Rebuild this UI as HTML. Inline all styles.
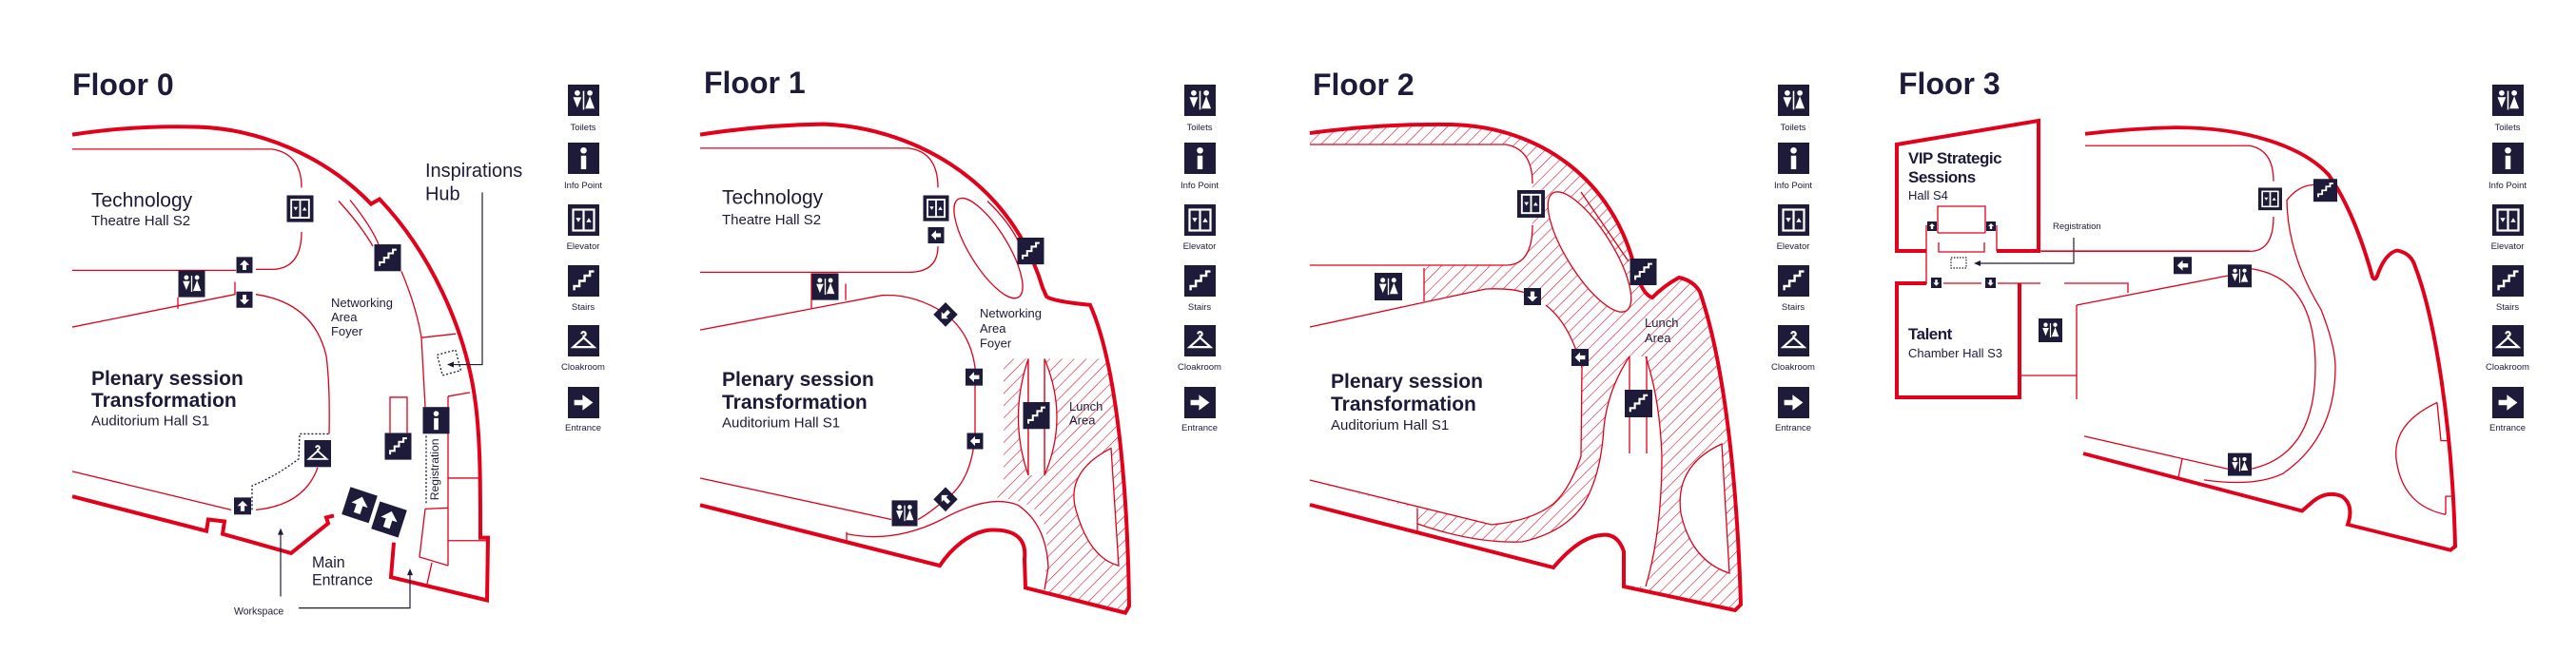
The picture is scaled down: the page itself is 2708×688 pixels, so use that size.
<!DOCTYPE html>
<html><head><meta charset="utf-8"><style>
html,body{margin:0;padding:0;background:#fff}
svg{display:block}
text{font-family:"Liberation Sans",sans-serif;fill:#1e1b3a}
</style></head><body>
<svg width="2708" height="688" viewBox="0 0 2708 688" xmlns="http://www.w3.org/2000/svg">
<defs>
<symbol id="toilet" viewBox="0 0 30 30"><rect width="30" height="30" fill="#1e1b3a"/><g fill="#fff"><circle cx="9" cy="8" r="2.6"/><path d="M5 12h8l-4 10z"/><rect x="14.3" y="6" width="1.4" height="18"/><circle cx="21" cy="8" r="2.6"/><path d="M21 11l-4.5 12h9z"/></g></symbol>
<symbol id="info" viewBox="0 0 30 30"><rect width="30" height="30" fill="#1e1b3a"/><g fill="#fff"><circle cx="15" cy="7.5" r="3"/><rect x="12.5" y="12.5" width="5" height="13"/></g></symbol>
<symbol id="elev" viewBox="0 0 30 30"><rect width="30" height="30" fill="#1e1b3a"/><rect x="5" y="5" width="20" height="20" fill="none" stroke="#fff" stroke-width="2"/><line x1="15" y1="5" x2="15" y2="25" stroke="#fff" stroke-width="2"/><path d="M7.5 13h5l-2.5 4z M17.5 17h5l-2.5-4z" fill="#fff"/></symbol>
<symbol id="stairs" viewBox="0 0 30 30"><rect width="30" height="30" fill="#1e1b3a"/><polyline points="6,24 6,20 11,20 11,15 16,15 16,10 21,10 21,6 25,6" fill="none" stroke="#fff" stroke-width="2.2"/></symbol>
<symbol id="cloak" viewBox="0 0 30 30"><rect width="30" height="30" fill="#1e1b3a"/><path d="M13 8.5a2 2 0 1 1 2 2v1.5L5 21h20L15 12" fill="none" stroke="#fff" stroke-width="2"/></symbol>
<symbol id="entr" viewBox="0 0 30 30"><rect width="30" height="30" fill="#1e1b3a"/><path d="M6 12.5h8v-5l10 7.5-10 7.5v-5h-8z" fill="#fff"/></symbol>
<symbol id="up" viewBox="0 0 30 30"><rect width="30" height="30" fill="#1e1b3a"/><path d="M15 6l9 9h-5.5v9h-7v-9h-5.5z" fill="#fff"/></symbol>
<symbol id="down" viewBox="0 0 30 30"><rect width="30" height="30" fill="#1e1b3a"/><path d="M15 24l9-9h-5.5v-9h-7v9h-5.5z" fill="#fff"/></symbol>
<symbol id="left" viewBox="0 0 30 30"><rect width="30" height="30" fill="#1e1b3a"/><path d="M6 15l9-9v5.5h9v7h-9v5.5z" fill="#fff"/></symbol>
<pattern id="h" width="9" height="9" patternUnits="userSpaceOnUse" patternTransform="rotate(45)"><line x1="0" y1="0" x2="0" y2="9" stroke="#e2001a" stroke-width="1.1"/></pattern>
<g id="legend">
<use href="#toilet" x="-16" y="89" width="33" height="33"/>
<use href="#info" x="-16" y="150" width="33" height="33"/>
<use href="#elev" x="-16" y="215" width="33" height="33"/>
<use href="#stairs" x="-16" y="279" width="33" height="33"/>
<use href="#cloak" x="-16" y="342" width="33" height="33"/>
<use href="#entr" x="-16" y="407" width="33" height="33"/>
<g font-size="9.5" text-anchor="middle" style="font-family:'Liberation Sans',sans-serif" fill="#1e1b3a">
<text x="0" y="137">Toilets</text><text x="0" y="198">Info Point</text><text x="0" y="262">Elevator</text><text x="0" y="326">Stairs</text><text x="0" y="389">Cloakroom</text><text x="0" y="453">Entrance</text></g>
</g>
</defs>

<use href="#legend" x="613" y="0"/>
<use href="#legend" x="1261" y="0"/>
<use href="#legend" x="1885" y="0"/>
<use href="#legend" x="2636" y="0"/>

<!-- FLOOR 0 and FLOOR 1 -->
<g transform="scale(1,1.012)">
<text x="76" y="99" font-size="32" font-weight="bold">Floor 0</text>
<g fill="none" stroke="#e2001a">
<path stroke-width="4" d="M76,140 Q140,130 208,132 C270,134 340,160 390,212 L399,207 C450,260 490,340 500,420 C505,460 505,500 505,559 L513,559 L512,624 L411,600 L414,564"/>
<path stroke-width="4" d="M76,516 L217,552 L219,540 L236,542 L234,555 L306,575 L345,544 L343,538 L351,536"/>
<g stroke-width="1.3">
<path d="M76,155 L286,155 Q317,160 317,195"/>
<path d="M317,241 Q317,278 288,280 L269,280"/>
<path d="M76,281 L248,281"/>
<path d="M76,340 L247,306 L247,293"/>
<path d="M187,309 L187,321"/>
<path d="M269,306 Q330,315 343,370 Q347,400 346,451"/>
<path d="M334,486 Q320,525 269,530"/>
<path d="M76,490 L243,530"/>
<path d="M356,209 Q380,235 392,256"/>
<path d="M368,208 Q390,235 398,254"/>
<path d="M422,282 Q438,320 443,351 L447,423"/>
<path d="M443,351 L479,347"/>
<path d="M471,412 L494,408"/>
<path d="M471,412 L471,588"/>
<path d="M471,497 L503,497"/>
<path d="M471,562 L512,562"/>
<path d="M447,529 L471,528 M447,529 L441,579 L471,588 M454,585 L449,607"/>
<path d="M410,450 L410,413 L428,413 L428,450"/>
</g>
<path stroke="#1e1b3a" stroke-width="1.3" stroke-dasharray="2,2" d="M265,530 L265,505 Q290,495 314,477 L315,451 L346,451"/>
<path stroke="#1e1b3a" stroke-width="1.3" stroke-dasharray="2,2" d="M448,453 L448,525"/>
<rect x="462" y="366" width="20" height="22" stroke="#1e1b3a" stroke-width="1.3" stroke-dasharray="2,2" transform="rotate(-15 472 377)"/>
</g>
<g fill="none" stroke="#1e1b3a" stroke-width="1.2">
<path d="M507,200 L507,379 L474,379"/>
<path d="M295,620 L295,552"/>
<path d="M314,632 L431,632 L431,594"/>
</g>
<path d="M470,379 l7,-3 v6z M295,549 l-3,7 h6z M431,591 l-3,7 h6z" fill="#1e1b3a"/>
<use href="#elev" x="301" y="203" width="29" height="28"/>
<use href="#up" x="248" y="267" width="18" height="17"/>
<use href="#toilet" x="187" y="281" width="29" height="28"/>
<use href="#down" x="248" y="303" width="18" height="17"/>
<use href="#cloak" x="320" y="457" width="28" height="29"/>
<use href="#up" x="246" y="517" width="18" height="18"/>
<use href="#stairs" x="393" y="254" width="29" height="28"/>
<use href="#stairs" x="404" y="450" width="29" height="28"/>
<use href="#info" x="444" y="423" width="29" height="28"/>
<g transform="translate(378,525) rotate(18)"><use href="#up" x="-15" y="-15" width="30" height="30"/></g>
<g transform="translate(409,540) rotate(18)"><use href="#up" x="-15" y="-15" width="30" height="30"/></g>
<text x="96" y="215" font-size="21">Technology</text>
<text x="96" y="234" font-size="15">Theatre Hall S2</text>
<text x="96" y="400" font-size="21" font-weight="bold">Plenary session</text>
<text x="96" y="423" font-size="21" font-weight="bold">Transformation</text>
<text x="96" y="442" font-size="15">Auditorium Hall S1</text>
<text x="348" y="319" font-size="13">Networking</text>
<text x="348" y="334" font-size="13">Area</text>
<text x="348" y="349" font-size="13">Foyer</text>
<text x="447" y="184" font-size="20">Inspirations</text>
<text x="447" y="208" font-size="20">Hub</text>
<text x="328" y="590" font-size="16">Main</text>
<text x="328" y="608" font-size="16">Entrance</text>
<text x="246" y="639" font-size="10.5">Workspace</text>
<text x="461" y="488" font-size="12" text-anchor="middle" transform="rotate(-90 461 488)">Registration</text>

<!-- FLOOR 1 -->
<text x="740" y="97" font-size="32" font-weight="bold">Floor 1</text>
<clipPath id="c1"><path d="M736,140 Q800,130 866,129 C950,132 1060,180 1096,299 L1100,308 Q1105,313 1146,317 C1170,370 1185,480 1187,630 L1183,637 L1078,611 L1077,581 C1080,555 1060,550 1040,551 C1020,553 1000,570 988,588 L736,525Z"/></clipPath>
<path clip-path="url(#c1)" fill="url(#h)" d="M1055,373 L1200,373 L1200,650 L1098,614 L1101,564 Q1100,540 1085,527 Q1060,515 1040,518 L1055,505 Z"/>
<g fill="#fff" stroke="#e2001a" stroke-width="1.3">
<path d="M1081,373 Q1060,434 1081,494 Z" stroke="none"/>
<path d="M1081,373 Q1060,434 1081,494" fill="none"/>
<line x1="1081" y1="373" x2="1081" y2="494"/>
<path d="M1098,373 Q1124,434 1098,494 Z"/>
<path d="M1168,466 Q1120,490 1131,530 Q1145,580 1176,588 Z"/>
</g>
<rect x="1081" y="373" width="17" height="121" fill="#fff"/>
<line x1="1081" y1="373" x2="1081" y2="494" stroke="#e2001a" stroke-width="1.3"/>
<line x1="1098" y1="373" x2="1098" y2="494" stroke="#e2001a" stroke-width="1.3"/>
<g fill="none" stroke="#e2001a">
<path stroke-width="4" d="M736,140 Q800,130 866,129 C950,132 1060,180 1096,299 L1100,308 Q1105,313 1146,317 C1170,370 1185,480 1187,630 L1183,637 L1078,611 L1077,581 C1080,555 1060,550 1040,551 C1020,553 1000,570 988,588 L736,525"/>
<g stroke-width="1.3">
<path d="M736,154 L955,154 Q986,158 986,195"/>
<path d="M986,256 Q986,283 955,283 L736,283"/>
<path d="M853,284 L853,321 M889,295 L889,312"/>
<path d="M736,343 L927,307 Q960,305 992,325 Q1020,345 1025,382 L1025,450 Q1022,500 994,519 Q975,535 965,540"/>
<path d="M736,497 L937,540"/>
<path d="M890,553 L890,562 M890,555 Q940,565 990,540 Q1040,513 1070,525 Q1100,545 1102,590 L1098,613"/>
<path d="M1038,209 Q1060,230 1070,250"/>
<ellipse cx="1039" cy="258" rx="20" ry="60" transform="rotate(-32 1039 258)" fill="#fff"/>
</g></g>
<use href="#elev" x="970" y="203" width="28" height="27"/>
<use href="#left" x="975" y="236" width="18" height="17"/>
<use href="#toilet" x="853" y="284" width="29" height="28"/>
<use href="#left" x="1015" y="383" width="18" height="18"/>
<use href="#left" x="1016" y="450" width="18" height="17"/>
<use href="#toilet" x="937" y="520" width="28" height="27"/>
<use href="#stairs" x="1069" y="247" width="29" height="28"/>
<use href="#stairs" x="1075" y="418" width="29" height="28"/>
<g transform="translate(994,327) rotate(45)"><rect x="-9" y="-9" width="18" height="18" fill="#1e1b3a"/></g>
<g transform="translate(994,327) rotate(-135)"><path d="M0,-6 l5,5 h-3 v6 h-4 v-6 h-3z" fill="#fff"/></g>
<g transform="translate(994,519) rotate(45)"><rect x="-9" y="-9" width="18" height="18" fill="#1e1b3a"/></g>
<g transform="translate(994,519) rotate(-45)"><path d="M0,-6 l5,5 h-3 v6 h-4 v-6 h-3z" fill="#fff"/></g>
<text x="759" y="212" font-size="21">Technology</text>
<text x="759" y="233" font-size="15">Theatre Hall S2</text>
<text x="759" y="401" font-size="21" font-weight="bold">Plenary session</text>
<text x="759" y="425" font-size="21" font-weight="bold">Transformation</text>
<text x="759" y="444" font-size="15">Auditorium Hall S1</text>
<text x="1030" y="330" font-size="13">Networking</text>
<text x="1030" y="346" font-size="13">Area</text>
<text x="1030" y="361" font-size="13">Foyer</text>
<text x="1124" y="427" font-size="13">Lunch</text>
<text x="1124" y="441" font-size="13">Area</text>
<text x="1380" y="99" font-size="32" font-weight="bold">Floor 2</text>
</g>

<!-- FLOOR 2 -->
<path fill="url(#h)" d="M1377,140 Q1450,130 1525,131 C1620,133 1695,190 1718,280 Q1726,310 1737,313 Q1750,300 1765,292 Q1780,295 1787,307 C1812,380 1826,500 1830,636 L1824,642 L1707,617 L1707,580 Q1700,560 1683,563 Q1660,565 1633,597 L1377,531Z"/>
<g fill="#fff" stroke="none">
<path d="M1370,152 L1583,152 Q1611,157 1611,193 L1611,237 Q1611,279 1583,279 L1370,279 Z"/>
<path d="M1370,279 L1497,279 L1497,317 L1370,344 Z"/>
<path d="M1370,505 L1490,535 L1490,560 L1370,531 Z"/>
<path d="M1370,344 L1562,304 Q1590,303 1603,308 L1625,321 Q1650,340 1663,387 L1662,480 Q1650,515 1633,530 Q1610,548 1568,552 L1370,505 Z"/>
<path d="M1490,551 Q1550,572 1600,570 Q1645,560 1665,530 Q1683,500 1686,450 Q1690,410 1713,375 L1730,375 Q1745,420 1747,480 Q1747,560 1730,617 L1707,617 L1707,580 Q1700,560 1683,563 Q1660,565 1633,597 L1490,560 Z"/>
</g>
<g fill="none" stroke="#e2001a">
<path stroke-width="4" d="M1377,140 Q1450,130 1525,131 C1620,133 1695,190 1718,280 Q1726,310 1737,313 Q1750,300 1765,292 Q1780,295 1787,307 C1812,380 1826,500 1830,636 L1824,642 L1707,617 L1707,580 Q1700,560 1683,563 Q1660,565 1633,597 L1377,531"/>
<g stroke-width="1.3">
<path d="M1377,152 L1583,152 Q1611,157 1611,193"/>
<path d="M1611,237 Q1611,279 1583,279 L1377,279"/>
<path d="M1497,282 L1497,317"/>
<path d="M1377,344 L1562,304 Q1590,303 1603,308"/>
<path d="M1625,321 Q1650,340 1663,387 L1662,480 Q1650,515 1633,530 Q1610,548 1568,552 L1377,505"/>
<path d="M1490,535 L1490,560 M1490,551 Q1550,572 1600,570 Q1645,560 1665,530 Q1683,500 1686,450 Q1690,410 1713,375"/>
<path d="M1730,375 Q1745,420 1747,480 Q1747,560 1730,617"/>
<path d="M1713,375 L1713,477 M1731,375 L1731,477"/>
<path d="M1662,202 L1712,275"/>
<ellipse cx="1671" cy="265" rx="24" ry="73" transform="rotate(-32 1671 265)" fill="#fff"/>
<path d="M1810,467 Q1760,490 1767,540 Q1778,590 1818,603 Z" fill="#fff"/>
</g></g>
<use href="#elev" x="1595" y="200" width="29" height="29"/>
<use href="#toilet" x="1445" y="287" width="29" height="29"/>
<use href="#down" x="1602" y="303" width="18" height="18"/>
<use href="#left" x="1652" y="367" width="18" height="18"/>
<use href="#stairs" x="1713" y="272" width="29" height="28"/>
<use href="#stairs" x="1708" y="410" width="29" height="29"/>
<text x="1729" y="344" font-size="13">Lunch</text>
<text x="1729" y="360" font-size="13">Area</text>
<text x="1399" y="408" font-size="21" font-weight="bold">Plenary session</text>
<text x="1399" y="432" font-size="21" font-weight="bold">Transformation</text>
<text x="1399" y="452" font-size="15">Auditorium Hall S1</text>

<!-- FLOOR 3 -->
<text x="1996" y="99" font-size="32" font-weight="bold">Floor 3</text>
<g fill="none" stroke="#e2001a">
<path stroke-width="4" d="M2025,264 L1994,264 L1994,152 L2143,127 L2143,264 L2099,264"/>
<path stroke-width="4" d="M2025,298 L1994,298 L1994,418 L2123,418 L2123,298"/>
<g stroke-width="1.3">
<path d="M1994,264 L2025,264 L2025,298 M2099,237 L2099,264 M2025,237 L2025,264"/>
<path d="M2143,264 L2365,264"/>
<path d="M2037,245 L2037,217 L2087,217 L2087,245 M2037,245 L2087,245"/>
<path d="M2038,255 L2038,265 L2086,265 L2086,255"/>
<path d="M1994,298 L2026,298 M2043,298 L2083,298 M2100,298 L2145,298 M2170,298 L2237,298 L2237,308"/>
<path d="M2183,321 L2342,290 M2183,321 L2183,420 M2123,395 L2183,395"/>
</g></g>
<rect x="2051" y="271" width="16" height="11" fill="none" stroke="#1e1b3a" stroke-width="1.2" stroke-dasharray="1.5,1.5"/>
<path d="M2180,250 L2180,277 L2079,277" fill="none" stroke="#1e1b3a" stroke-width="1.2"/>
<path d="M2075,277 l7,-3 v6z" fill="#1e1b3a"/>
<use href="#up" x="2026" y="233" width="10" height="10"/>
<use href="#up" x="2088" y="233" width="10" height="10"/>
<use href="#down" x="2030" y="292" width="11" height="11"/>
<use href="#down" x="2087" y="292" width="11" height="11"/>
<use href="#toilet" x="2143" y="335" width="25" height="25"/>
<text x="2158" y="241" font-size="9.5">Registration</text>
<text x="2006" y="172" font-size="17" font-weight="bold" letter-spacing="-0.5">VIP Strategic</text>
<text x="2006" y="192" font-size="17" font-weight="bold" letter-spacing="-0.5">Sessions</text>
<text x="2006" y="210" font-size="13">Hall S4</text>
<text x="2006" y="357" font-size="17" font-weight="bold" letter-spacing="-0.5">Talent</text>
<text x="2006" y="376" font-size="13">Chamber Hall S3</text>
<g transform="translate(0,0) scale(1,0.958)">
<g fill="none" stroke="#e2001a">
<path stroke-width="4" d="M2192,147 Q2240,141 2288,140 C2360,140 2420,160 2448,192 C2470,225 2485,270 2494,304 Q2497,310 2500,300 Q2508,278 2520,275 Q2535,278 2539,293 C2560,350 2578,470 2581,600 L2576,604 L2468,576 Q2475,555 2462,545 Q2445,538 2430,552 L2420,561 L2190,498"/>
<g stroke-width="1.3">
<path d="M2192,160 L2365,160 Q2390,165 2390,199"/>
<path d="M2390,238 Q2390,276 2365,276 L2146,276"/>
<path d="M2366,295 Q2434,305 2434,403 Q2434,500 2366,515"/>
<path d="M2191,479 L2342,515"/>
<path d="M2445,204 Q2420,198 2404,220 Q2405,280 2440,340 Q2455,380 2455,403 Q2455,480 2400,520 Q2370,535 2317,527"/>
<path d="M2294,504 L2290,524"/>
<path d="M2562,442 Q2515,465 2519,504 Q2525,555 2571,565 M2562,442 L2566,484 L2574,484 M2571,565 L2571,545 L2580,545"/>
</g></g>
<use href="#elev" x="2374" y="206" width="25" height="25"/>
<use href="#stairs" x="2432" y="196" width="25" height="26"/>
<use href="#left" x="2285" y="282" width="19" height="19"/>
<use href="#toilet" x="2342" y="290" width="25" height="26"/>
<use href="#toilet" x="2342" y="497" width="25" height="26"/>
</g>
</svg>
</body></html>
